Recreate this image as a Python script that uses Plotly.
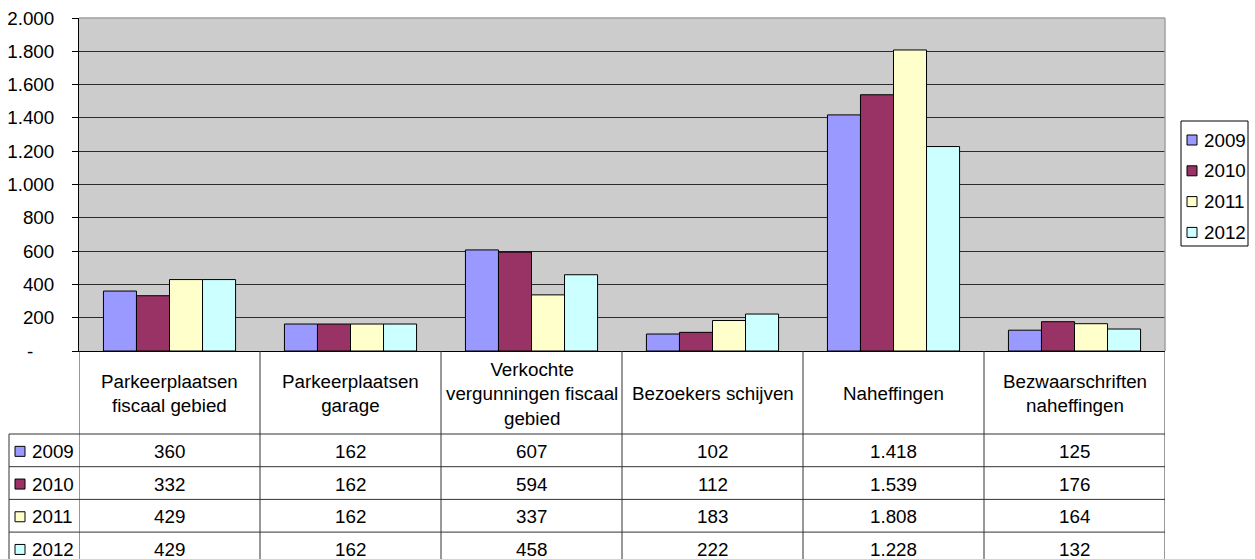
import plotly.graph_objects as go

# ---------------- data ----------------
categories = [
    "Parkeerplaatsen<br>fiscaal gebied",
    "Parkeerplaatsen<br>garage",
    "Verkochte<br>vergunningen fiscaal<br>gebied",
    "Bezoekers schijven",
    "Naheffingen",
    "Bezwaarschriften<br>naheffingen",
]
years = ["2009", "2010", "2011", "2012"]
values_2009 = [360, 162, 607, 102, 1418, 125]
values_2010 = [332, 162, 594, 112, 1539, 176]
values_2011 = [429, 162, 337, 183, 1808, 164]
values_2012 = [429, 162, 458, 222, 1228, 132]
series = [values_2009, values_2010, values_2011, values_2012]
colors = ["#9999FF", "#993366", "#FFFFCC", "#CCFFFF"]
y_tickvals = [0, 200, 400, 600, 800, 1000, 1200, 1400, 1600, 1800, 2000]

# ---------------- layout geometry (pixels) ----------------
W, H = 1255, 559
PL, PR, PT, PB = 79, 1165, 18, 351          # plot area
TABLE_LEFT = 9
HEADER_BOTTOM = 434
ROW_H = 32.7
FONT = "Liberation Sans, Arial, sans-serif"
FS = 18.8
LINE = "#333333"


def fmt(v):
    if v == 0:
        return "-\u00a0\u00a0\u00a0\u00a0"
    return f"{v:,}".replace(",", ".")


def py(p):  # pixel y -> paper y
    return (PB - p) / (PB - PT)


def px(p):  # pixel x -> paper x
    return (p - PL) / (PR - PL)


fig = go.Figure()
for yr, vals, col in zip(years, series, colors):
    fig.add_trace(go.Bar(
        x=categories, y=vals, name=yr,
        marker=dict(color=col, line=dict(color="#000000", width=1)),
        showlegend=False,
    ))

shapes = []
annotations = []

# plot-area gray border top/right
shapes.append(dict(type="line", xref="paper", yref="paper", x0=0, x1=1, y0=1, y1=1,
                   line=dict(color="#A0A0A0", width=1.5), layer="above"))
shapes.append(dict(type="line", xref="paper", yref="paper", x0=1, x1=1, y0=0, y1=1,
                   line=dict(color="#A0A0A0", width=1.5), layer="above"))

n_rows = len(years)
table_bottom = HEADER_BOTTOM + ROW_H * n_rows + 2
# vertical lines of table
for i in range(len(categories) + 1):
    shapes.append(dict(type="line", xref="x", yref="paper", x0=i - 0.5, x1=i - 0.5,
                       y0=py(PB), y1=py(table_bottom), line=dict(color=LINE, width=1)))
shapes.append(dict(type="line", xref="paper", yref="paper", x0=px(TABLE_LEFT), x1=px(TABLE_LEFT),
                   y0=py(HEADER_BOTTOM), y1=py(table_bottom), line=dict(color=LINE, width=1)))
# horizontal lines of table
for r in range(n_rows + 1):
    yy = HEADER_BOTTOM + ROW_H * r
    shapes.append(dict(type="line", xref="paper", yref="paper", x0=px(TABLE_LEFT), x1=1,
                       y0=py(yy), y1=py(yy), line=dict(color=LINE, width=1)))

# header texts
for i, cat in enumerate(categories):
    annotations.append(dict(x=i, y=py((PB + HEADER_BOTTOM) / 2 + 1), xref="x", yref="paper",
                            text=cat, showarrow=False, xanchor="center", yanchor="middle",
                            font=dict(family=FONT, size=FS, color="#000")))

# rows
for r, (yr, vals, col) in enumerate(zip(years, series, colors)):
    yc = HEADER_BOTTOM + ROW_H * (r + 0.5) + 1
    for i, v in enumerate(vals):
        annotations.append(dict(x=i, y=py(yc), xref="x", yref="paper", text=fmt(v),
                                showarrow=False, xanchor="center", yanchor="middle",
                                font=dict(family=FONT, size=FS, color="#000")))
    # legend key in table
    shapes.append(dict(type="rect", xref="paper", yref="paper",
                       x0=px(15), x1=px(25), y0=py(yc - 5), y1=py(yc + 5),
                       fillcolor=col, line=dict(color="#000", width=1)))
    annotations.append(dict(x=px(30), y=py(yc), xref="paper", yref="paper", text=yr,
                            showarrow=False, xanchor="left", yanchor="middle",
                            font=dict(family=FONT, size=FS, color="#000")))

# right legend (manual)
LG_X0, LG_X1, LG_Y0, LG_Y1 = 1181, 1248, 121, 246
shapes.append(dict(type="rect", xref="paper", yref="paper",
                   x0=px(LG_X0), x1=px(LG_X1), y0=py(LG_Y0), y1=py(LG_Y1),
                   fillcolor="#FFFFFF", line=dict(color="#000", width=1)))
for k, (yr, col) in enumerate(zip(years, colors)):
    yc = 140 + k * 30.8
    shapes.append(dict(type="rect", xref="paper", yref="paper",
                       x0=px(1187), x1=px(1197), y0=py(yc - 5), y1=py(yc + 5),
                       fillcolor=col, line=dict(color="#000", width=1)))
    annotations.append(dict(x=px(1202), y=py(yc), xref="paper", yref="paper", text=yr,
                            showarrow=False, xanchor="left", yanchor="middle",
                            font=dict(family=FONT, size=FS, color="#000")))

fig.update_layout(
    width=W, height=H,
    margin=dict(l=PL, r=W - PR, t=PT, b=H - PB, pad=0, autoexpand=False),
    paper_bgcolor="#FFFFFF",
    plot_bgcolor="#CCCCCC",
    barmode="group",
    bargap=0.27,
    bargroupgap=0,
    font=dict(family=FONT, size=FS, color="#000"),
    showlegend=False,
    shapes=shapes,
    annotations=annotations,
    xaxis=dict(range=[-0.5, len(categories) - 0.5], showticklabels=False, ticks="",
               showgrid=False, showline=True, linecolor="#000", linewidth=1, zeroline=False,
               fixedrange=True, automargin=False),
    yaxis=dict(range=[0, 2000], tickvals=y_tickvals, ticktext=[fmt(v) for v in y_tickvals],
               showgrid=True, gridcolor="#2A2A2A", gridwidth=1, zeroline=False,
               showline=True, linecolor="#000", linewidth=1,
               ticks="outside", ticklen=6, tickcolor="#000", ticklabelstandoff=14,
               tickfont=dict(family=FONT, size=FS, color="#000"), fixedrange=True,
               automargin=False),
)

fig.write_html(
    "out.html",
    config={"displayModeBar": False},
    post_script="document.body.style.margin='0';document.body.style.overflow='hidden';",
)
